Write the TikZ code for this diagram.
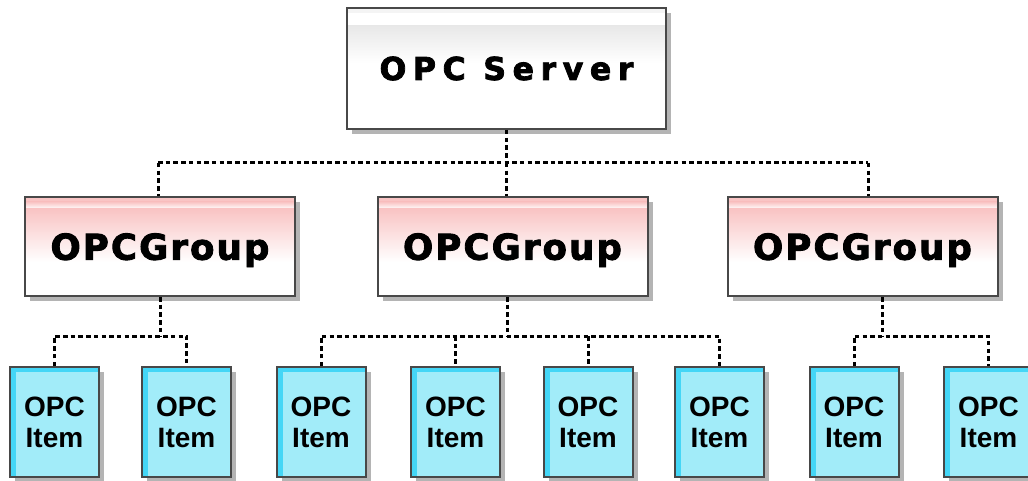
\documentclass[tikz,border=0pt]{standalone}
\usepackage{fontspec}
\setmainfont{DejaVu Sans}
\newfontfamily\srvfont{DejaVu Sans}[LetterSpace=21,FakeBold=2.5]
\newfontfamily\grpfont{DejaVu Sans}[LetterSpace=6,FakeBold=2.5]
\newfontfamily\itmfont{Liberation Sans}
\usetikzlibrary{shadows}
\definecolor{bord}{HTML}{484848}
\definecolor{shad}{HTML}{B4B4B4}
\definecolor{pinkc}{HTML}{F9C4C4}
\definecolor{itemfill}{HTML}{A2ECF9}
\definecolor{itemedge}{HTML}{44D6F6}
\definecolor{grayc}{HTML}{E8E8E8}
\tikzset{
  box/.style={rectangle, draw=bord, line width=2pt, inner sep=0pt,
    drop shadow={opacity=1, fill=shad, shadow xshift=5pt, shadow yshift=-5pt}},
  srvbox/.style={box, fill=white, minimum width=319pt, minimum height=121pt,
    font=\srvfont\bfseries\fontsize{31.5}{36}\selectfont,
    path picture={
      \fill[grayc!50] (path picture bounding box.north west) rectangle ([yshift=-5pt]path picture bounding box.north east);
      \shade[top color=grayc, bottom color=white] ([yshift=-18pt]path picture bounding box.north west) rectangle ([yshift=-55pt]path picture bounding box.north east);
    }},
  grpbox/.style={box, fill=white, minimum width=270pt, minimum height=99pt, text depth=0pt,
    font=\grpfont\bfseries\fontsize{35.5}{40}\selectfont,
    path picture={
      \fill[pinkc] (path picture bounding box.north west) rectangle ([yshift=-5pt]path picture bounding box.north east);
      \shade[top color=pinkc, bottom color=white] ([yshift=-5pt]path picture bounding box.north west) rectangle ([yshift=-12pt]path picture bounding box.north east);
      \shade[top color=pinkc, bottom color=white] ([yshift=-12pt]path picture bounding box.north west) rectangle ([yshift=-65pt]path picture bounding box.north east);
    }},
  itmbox/.style={box, fill=itemfill, minimum width=89pt, minimum height=110pt,
    align=center, font=\itmfont\bfseries\fontsize{28}{31}\selectfont,
    path picture={
      \fill[itemedge] (path picture bounding box.north west) rectangle ([xshift=6pt]path picture bounding box.south west);
      \fill[itemedge] (path picture bounding box.north west) rectangle ([yshift=-5pt]path picture bounding box.north east);
    }},
  conn/.style={draw=black, line width=3pt, dash pattern=on 4.5pt off 3.2pt}
}
\begin{document}
\begin{tikzpicture}[x=1pt,y=-1pt]
\useasboundingbox (0,0) rectangle (1028,481);
\fill[white] (0,0) rectangle (1028,481);
\coordinate (bus) at (0,163);
\coordinate (bus2) at (0,336);
% nodes
\node[srvbox] (srv) at (506.5,68.5) {OPC Server};
\node[grpbox] (g1) at (160,246.5) {OPCGroup};
\node[grpbox] (g2) at (512.5,246.5) {OPCGroup};
\node[grpbox] (g3) at (862.5,246.5) {OPCGroup};
\node[itmbox] (i1) at (54.5,422) {OPC\\Item};
\node[itmbox] (i2) at (186.5,422) {OPC\\Item};
\node[itmbox] (i3) at (321,422) {OPC\\Item};
\node[itmbox] (i4) at (455.5,422) {OPC\\Item};
\node[itmbox] (i5) at (588,422) {OPC\\Item};
\node[itmbox] (i6) at (719.5,422) {OPC\\Item};
\node[itmbox] (i7) at (854,422) {OPC\\Item};
\node[itmbox] (i8) at (988.5,422) {OPC\\Item};
% server to groups
\draw[conn] (srv.south) -- (srv.south |- bus);
\draw[conn] ([xshift=-2pt]g1.north |- bus) -- ([xshift=5.5pt]g3.north |- bus);
\draw[conn] ([xshift=-2pt]g1.north |- bus) -- ([xshift=-2pt]g1.north);
\draw[conn] (srv.south |- bus) -- (srv.south |- g2.north);
\draw[conn] ([xshift=5.5pt]g3.north |- bus) -- ([xshift=5.5pt]g3.north);
% groups to items
\draw[conn] (g1.south) -- (g1.south |- bus2);
\draw[conn] (i1.north) |- (i2.north |- bus2) -- (i2.north);
\draw[conn] ([xshift=-5.5pt]g2.south) -- ([xshift=-5.5pt]g2.south |- bus2);
\draw[conn] (i3.north) |- (i6.north |- bus2) -- (i6.north);
\draw[conn] (i4.north |- bus2) -- (i4.north);
\draw[conn] (i5.north |- bus2) -- (i5.north);
\draw[conn] ([xshift=19.5pt]g3.south) -- ([xshift=19.5pt]g3.south |- bus2);
\draw[conn] (i7.north) |- (i8.north |- bus2) -- (i8.north);
\end{tikzpicture}
\end{document}
